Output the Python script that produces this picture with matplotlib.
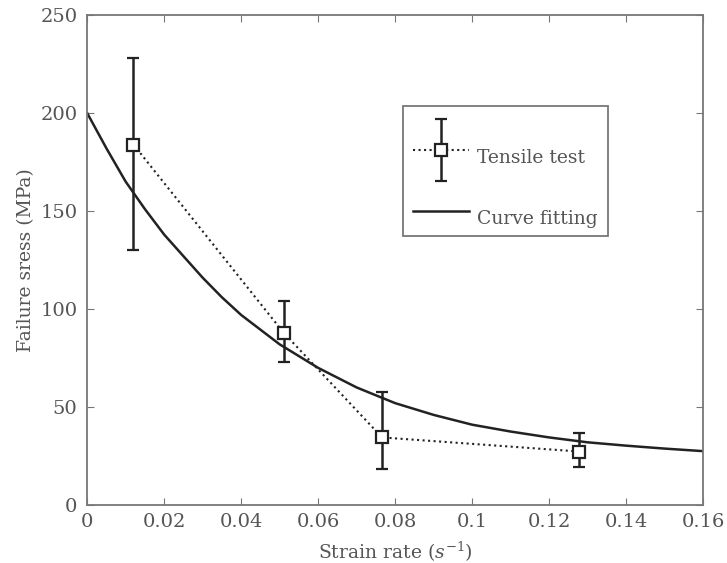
import numpy as np
import matplotlib
matplotlib.use("Agg")
import matplotlib.pyplot as plt
from matplotlib.patches import Rectangle
from matplotlib.legend_handler import HandlerErrorbar

# tensile test points
rate = [0.012, 0.051, 0.0766, 0.1278]
stress = [184, 88, 34.5, 27.3]
err_lo = [130, 73, 18.6, 19.6]
err_hi = [228, 104, 57.7, 36.6]

# fitted curve, read point by point
fit_x = [0, 0.005, 0.01, 0.015, 0.02, 0.025, 0.03, 0.035, 0.04, 0.05, 0.06,
         0.07, 0.08, 0.09, 0.10, 0.11, 0.12, 0.13, 0.14, 0.15, 0.16]
fit_y = [200, 182, 165, 151, 138, 127, 116, 106, 97, 82, 70,
         60, 52, 46, 41, 37.5, 34.5, 32, 30.3, 28.8, 27.5]

plt.rcParams['font.family'] = ['DejaVu Serif']
plt.rcParams['mathtext.fontset'] = 'dejavuserif'

txt = '#555555'
ink = '#222222'
grey = '#777777'

fig = plt.figure(figsize=(7.27, 5.63), dpi=100)
ax = fig.add_axes([0.12, 0.103, 0.847, 0.870])

stress = np.array(stress)
yerr = [stress - np.array(err_lo), np.array(err_hi) - stress]
eb = ax.errorbar(rate, stress, yerr=yerr, fmt='s', ls=':', color=ink, lw=1.5,
                 elinewidth=1.8, capsize=4, capthick=1.5, ms=8, mfc='white',
                 mec=ink, mew=1.6, label='Tensile test')
fl, = ax.plot(fit_x, fit_y, '-', color=ink, lw=1.8, label='Curve fitting')

ax.set_xlim(0, 0.16)
ax.set_ylim(0, 250)
ax.set_xticks(np.arange(0, 0.161, 0.02))
ax.set_xticklabels(['0', '0.02', '0.04', '0.06', '0.08', '0.1', '0.12', '0.14', '0.16'])
ax.set_yticks(range(0, 251, 50))
ax.tick_params(direction='in', top=True, right=True, length=5, color=grey,
               labelcolor=txt, labelsize=14)
ax.tick_params(axis='x', pad=6)
ax.tick_params(axis='y', pad=7)
for s in ax.spines.values():
    s.set_color(grey)
    s.set_linewidth(1.3)

ax.set_xlabel(r'Strain rate ($s^{-1}$)', color=txt, fontsize=13.5, labelpad=6)
ax.set_ylabel('Failure sress (MPa)', color=txt, fontsize=13.5, labelpad=4)

# legend box drawn separately so the rows can sit low inside it, as in the original
ax.add_patch(Rectangle((0.513, 0.549), 0.333, 0.265, transform=ax.transAxes,
                       fill=True, fc='white', ec=grey, lw=1.3, zorder=4))
leg = ax.legend([eb, fl], ['Tensile test', 'Curve fitting'],
                loc='upper left', bbox_to_anchor=(0.529, 0.751), borderaxespad=0,
                fontsize=13.5, frameon=False, handlelength=3.0,
                handleheight=3.0, labelspacing=1.05, borderpad=0,
                handletextpad=0.4,
                handler_map={type(eb): HandlerErrorbar(yerr_size=1.65)})
leg.set_zorder(5)
for t in leg.get_texts():
    t.set_color(txt)

fig.savefig('out.png', dpi=100)
